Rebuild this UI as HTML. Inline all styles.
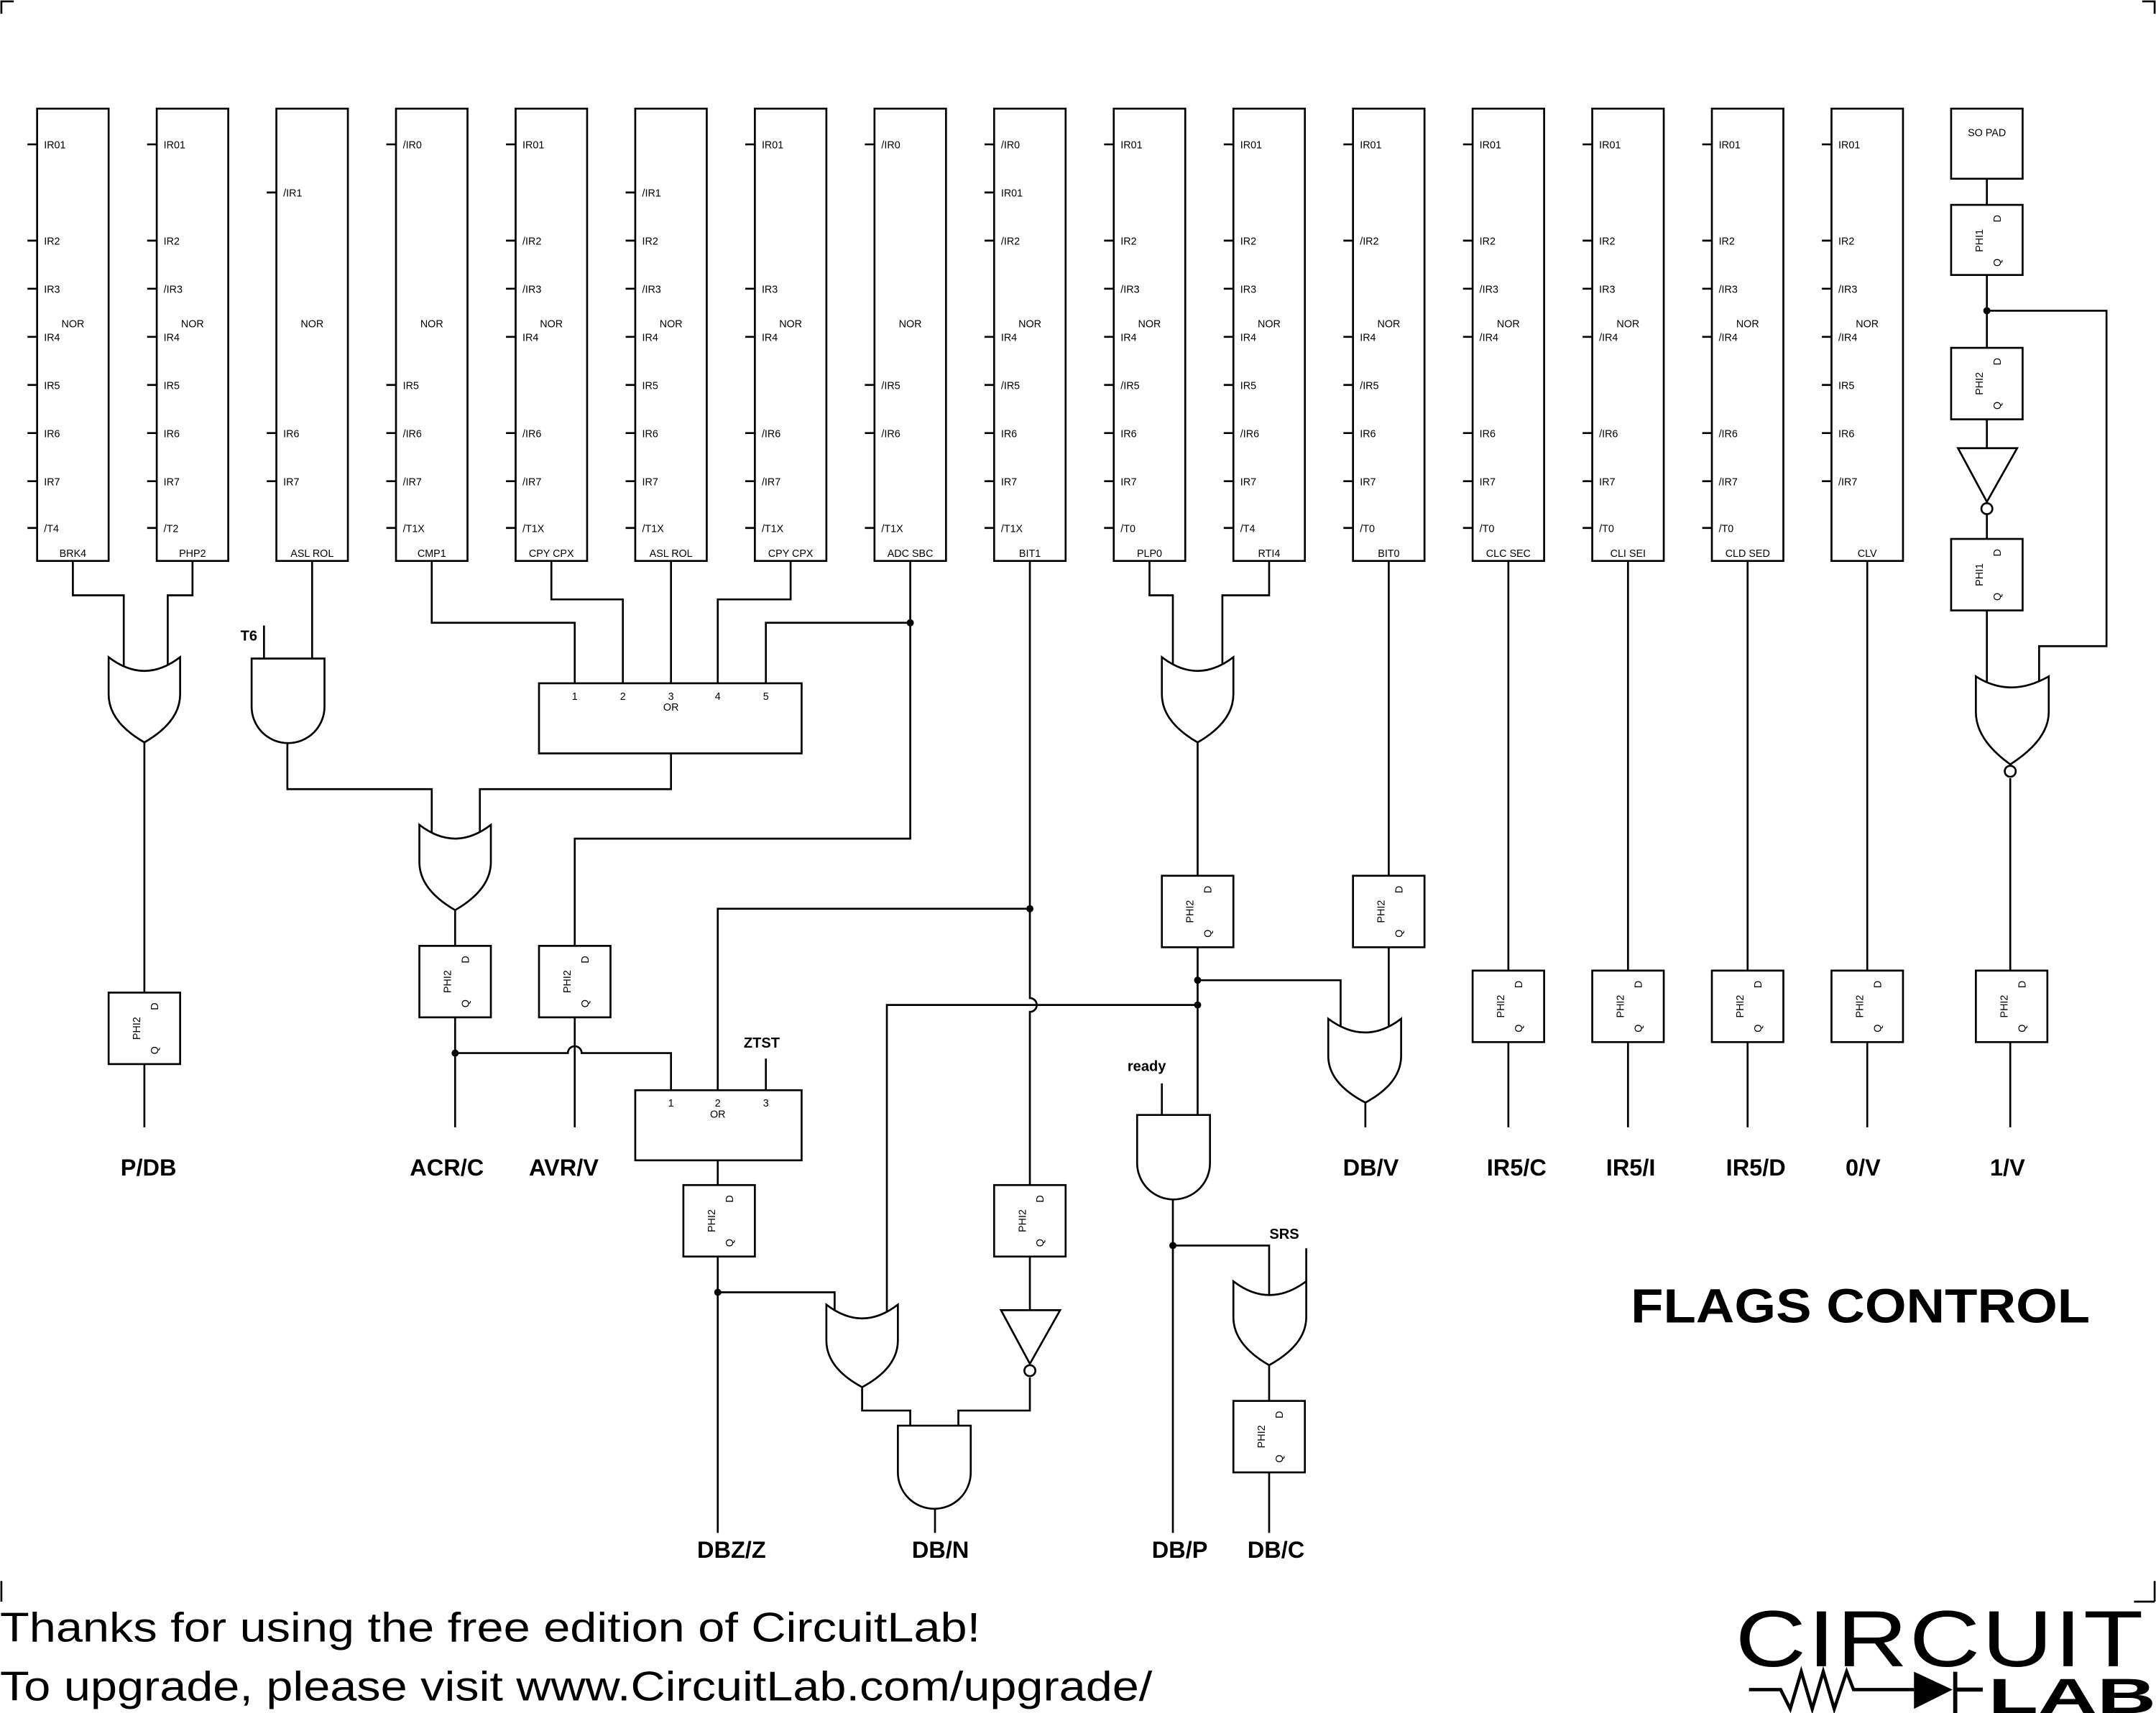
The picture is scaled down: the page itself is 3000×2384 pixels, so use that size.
<!DOCTYPE html>
<html><head><meta charset="utf-8"><style>
html,body{margin:0;padding:0;background:#fff}
svg{display:block}
.s{stroke:#000;stroke-width:1.4;fill:none}
.f{stroke:#000;stroke-width:1.4;fill:#fff}
text{font-family:"Liberation Sans",sans-serif;fill:#000}
.p{font-size:7.5px}
.m{font-size:7.5px;text-anchor:middle}
.b{font-size:17px;font-weight:bold;text-anchor:middle}
.sb{font-size:10.5px;font-weight:bold;text-anchor:middle}
</style></head><body>
<svg width="3000" height="2384" viewBox="0 0 1568 1246" xmlns="http://www.w3.org/2000/svg">
<path class="s" d="M1,10 V1 H10 M1558,1 H1567 V10 M1,1150 V1165 M1567,1150 V1165 M1552,1165 H1567"/>

<g transform="translate(27,0)"><rect class="s" x="0" y="79" width="52" height="329"/>
<path class="s" d="M-7,105H0M-7,175H0M-7,210H0M-7,245H0M-7,280H0M-7,315H0M-7,350H0M-7,384H0"/>
<text class="p" x="5" y="108">IR01</text><text class="p" x="5" y="178">IR2</text><text class="p" x="5" y="213">IR3</text><text class="p" x="5" y="248">IR4</text><text class="p" x="5" y="283">IR5</text><text class="p" x="5" y="318">IR6</text><text class="p" x="5" y="353">IR7</text><text class="p" x="5" y="387">/T4</text>
<text class="m" x="26" y="238">NOR</text><text class="m" x="26" y="405">BRK4</text></g>

<g transform="translate(114,0)"><rect class="s" x="0" y="79" width="52" height="329"/>
<path class="s" d="M-7,105H0M-7,175H0M-7,210H0M-7,245H0M-7,280H0M-7,315H0M-7,350H0M-7,384H0"/>
<text class="p" x="5" y="108">IR01</text><text class="p" x="5" y="178">IR2</text><text class="p" x="5" y="213">/IR3</text><text class="p" x="5" y="248">IR4</text><text class="p" x="5" y="283">IR5</text><text class="p" x="5" y="318">IR6</text><text class="p" x="5" y="353">IR7</text><text class="p" x="5" y="387">/T2</text>
<text class="m" x="26" y="238">NOR</text><text class="m" x="26" y="405">PHP2</text></g>

<g transform="translate(201,0)"><rect class="s" x="0" y="79" width="52" height="329"/>
<path class="s" d="M-7,140H0M-7,315H0M-7,350H0"/>
<text class="p" x="5" y="143">/IR1</text><text class="p" x="5" y="318">IR6</text><text class="p" x="5" y="353">IR7</text>
<text class="m" x="26" y="238">NOR</text><text class="m" x="26" y="405">ASL ROL</text></g>

<g transform="translate(288,0)"><rect class="s" x="0" y="79" width="52" height="329"/>
<path class="s" d="M-7,105H0M-7,280H0M-7,315H0M-7,350H0M-7,384H0"/>
<text class="p" x="5" y="108">/IR0</text><text class="p" x="5" y="283">IR5</text><text class="p" x="5" y="318">/IR6</text><text class="p" x="5" y="353">/IR7</text><text class="p" x="5" y="387">/T1X</text>
<text class="m" x="26" y="238">NOR</text><text class="m" x="26" y="405">CMP1</text></g>

<g transform="translate(375,0)"><rect class="s" x="0" y="79" width="52" height="329"/>
<path class="s" d="M-7,105H0M-7,175H0M-7,210H0M-7,245H0M-7,315H0M-7,350H0M-7,384H0"/>
<text class="p" x="5" y="108">IR01</text><text class="p" x="5" y="178">/IR2</text><text class="p" x="5" y="213">/IR3</text><text class="p" x="5" y="248">IR4</text><text class="p" x="5" y="318">/IR6</text><text class="p" x="5" y="353">/IR7</text><text class="p" x="5" y="387">/T1X</text>
<text class="m" x="26" y="238">NOR</text><text class="m" x="26" y="405">CPY CPX</text></g>

<g transform="translate(462,0)"><rect class="s" x="0" y="79" width="52" height="329"/>
<path class="s" d="M-7,140H0M-7,175H0M-7,210H0M-7,245H0M-7,280H0M-7,315H0M-7,350H0M-7,384H0"/>
<text class="p" x="5" y="143">/IR1</text><text class="p" x="5" y="178">IR2</text><text class="p" x="5" y="213">/IR3</text><text class="p" x="5" y="248">IR4</text><text class="p" x="5" y="283">IR5</text><text class="p" x="5" y="318">IR6</text><text class="p" x="5" y="353">IR7</text><text class="p" x="5" y="387">/T1X</text>
<text class="m" x="26" y="238">NOR</text><text class="m" x="26" y="405">ASL ROL</text></g>

<g transform="translate(549,0)"><rect class="s" x="0" y="79" width="52" height="329"/>
<path class="s" d="M-7,105H0M-7,210H0M-7,245H0M-7,315H0M-7,350H0M-7,384H0"/>
<text class="p" x="5" y="108">IR01</text><text class="p" x="5" y="213">IR3</text><text class="p" x="5" y="248">IR4</text><text class="p" x="5" y="318">/IR6</text><text class="p" x="5" y="353">/IR7</text><text class="p" x="5" y="387">/T1X</text>
<text class="m" x="26" y="238">NOR</text><text class="m" x="26" y="405">CPY CPX</text></g>

<g transform="translate(636,0)"><rect class="s" x="0" y="79" width="52" height="329"/>
<path class="s" d="M-7,105H0M-7,280H0M-7,315H0M-7,384H0"/>
<text class="p" x="5" y="108">/IR0</text><text class="p" x="5" y="283">/IR5</text><text class="p" x="5" y="318">/IR6</text><text class="p" x="5" y="387">/T1X</text>
<text class="m" x="26" y="238">NOR</text><text class="m" x="26" y="405">ADC SBC</text></g>

<g transform="translate(723,0)"><rect class="s" x="0" y="79" width="52" height="329"/>
<path class="s" d="M-7,105H0M-7,140H0M-7,175H0M-7,245H0M-7,280H0M-7,315H0M-7,350H0M-7,384H0"/>
<text class="p" x="5" y="108">/IR0</text><text class="p" x="5" y="143">IR01</text><text class="p" x="5" y="178">/IR2</text><text class="p" x="5" y="248">IR4</text><text class="p" x="5" y="283">/IR5</text><text class="p" x="5" y="318">IR6</text><text class="p" x="5" y="353">IR7</text><text class="p" x="5" y="387">/T1X</text>
<text class="m" x="26" y="238">NOR</text><text class="m" x="26" y="405">BIT1</text></g>

<g transform="translate(810,0)"><rect class="s" x="0" y="79" width="52" height="329"/>
<path class="s" d="M-7,105H0M-7,175H0M-7,210H0M-7,245H0M-7,280H0M-7,315H0M-7,350H0M-7,384H0"/>
<text class="p" x="5" y="108">IR01</text><text class="p" x="5" y="178">IR2</text><text class="p" x="5" y="213">/IR3</text><text class="p" x="5" y="248">IR4</text><text class="p" x="5" y="283">/IR5</text><text class="p" x="5" y="318">IR6</text><text class="p" x="5" y="353">IR7</text><text class="p" x="5" y="387">/T0</text>
<text class="m" x="26" y="238">NOR</text><text class="m" x="26" y="405">PLP0</text></g>

<g transform="translate(897,0)"><rect class="s" x="0" y="79" width="52" height="329"/>
<path class="s" d="M-7,105H0M-7,175H0M-7,210H0M-7,245H0M-7,280H0M-7,315H0M-7,350H0M-7,384H0"/>
<text class="p" x="5" y="108">IR01</text><text class="p" x="5" y="178">IR2</text><text class="p" x="5" y="213">IR3</text><text class="p" x="5" y="248">IR4</text><text class="p" x="5" y="283">IR5</text><text class="p" x="5" y="318">/IR6</text><text class="p" x="5" y="353">IR7</text><text class="p" x="5" y="387">/T4</text>
<text class="m" x="26" y="238">NOR</text><text class="m" x="26" y="405">RTI4</text></g>

<g transform="translate(984,0)"><rect class="s" x="0" y="79" width="52" height="329"/>
<path class="s" d="M-7,105H0M-7,175H0M-7,245H0M-7,280H0M-7,315H0M-7,350H0M-7,384H0"/>
<text class="p" x="5" y="108">IR01</text><text class="p" x="5" y="178">/IR2</text><text class="p" x="5" y="248">IR4</text><text class="p" x="5" y="283">/IR5</text><text class="p" x="5" y="318">IR6</text><text class="p" x="5" y="353">IR7</text><text class="p" x="5" y="387">/T0</text>
<text class="m" x="26" y="238">NOR</text><text class="m" x="26" y="405">BIT0</text></g>

<g transform="translate(1071,0)"><rect class="s" x="0" y="79" width="52" height="329"/>
<path class="s" d="M-7,105H0M-7,175H0M-7,210H0M-7,245H0M-7,315H0M-7,350H0M-7,384H0"/>
<text class="p" x="5" y="108">IR01</text><text class="p" x="5" y="178">IR2</text><text class="p" x="5" y="213">/IR3</text><text class="p" x="5" y="248">/IR4</text><text class="p" x="5" y="318">IR6</text><text class="p" x="5" y="353">IR7</text><text class="p" x="5" y="387">/T0</text>
<text class="m" x="26" y="238">NOR</text><text class="m" x="26" y="405">CLC SEC</text></g>

<g transform="translate(1158,0)"><rect class="s" x="0" y="79" width="52" height="329"/>
<path class="s" d="M-7,105H0M-7,175H0M-7,210H0M-7,245H0M-7,315H0M-7,350H0M-7,384H0"/>
<text class="p" x="5" y="108">IR01</text><text class="p" x="5" y="178">IR2</text><text class="p" x="5" y="213">IR3</text><text class="p" x="5" y="248">/IR4</text><text class="p" x="5" y="318">/IR6</text><text class="p" x="5" y="353">IR7</text><text class="p" x="5" y="387">/T0</text>
<text class="m" x="26" y="238">NOR</text><text class="m" x="26" y="405">CLI SEI</text></g>

<g transform="translate(1245,0)"><rect class="s" x="0" y="79" width="52" height="329"/>
<path class="s" d="M-7,105H0M-7,175H0M-7,210H0M-7,245H0M-7,315H0M-7,350H0M-7,384H0"/>
<text class="p" x="5" y="108">IR01</text><text class="p" x="5" y="178">IR2</text><text class="p" x="5" y="213">/IR3</text><text class="p" x="5" y="248">/IR4</text><text class="p" x="5" y="318">/IR6</text><text class="p" x="5" y="353">/IR7</text><text class="p" x="5" y="387">/T0</text>
<text class="m" x="26" y="238">NOR</text><text class="m" x="26" y="405">CLD SED</text></g>

<g transform="translate(1332,0)"><rect class="s" x="0" y="79" width="52" height="329"/>
<path class="s" d="M-7,105H0M-7,175H0M-7,210H0M-7,245H0M-7,280H0M-7,315H0M-7,350H0"/>
<text class="p" x="5" y="108">IR01</text><text class="p" x="5" y="178">IR2</text><text class="p" x="5" y="213">/IR3</text><text class="p" x="5" y="248">/IR4</text><text class="p" x="5" y="283">IR5</text><text class="p" x="5" y="318">IR6</text><text class="p" x="5" y="353">/IR7</text>
<text class="m" x="26" y="238">NOR</text><text class="m" x="26" y="405">CLV</text></g>

<path class="s" d="
M53,408V433H90V490 M140,408V433H122V490 M105,540V722 M105,774V820
M192,455V480 M227,408V480 M209,540V574H314V606 M488,548V574H349V606
M314,408V453H418V497 M401,408V436H453V497 M488,408V497 M575,408V436H522V497 M662,408V453H557V497
M662,453V610H418V688 M331,662V688 M331,740V820 M418,740V820
M331,766H413 A5,5 0 0 1 423,766 H488V793
M557,770V793 M522,793V661H749 M749,408V726 A5,5 0 0 1 749,736 V862
M522,844V862 M522,913V1115 M522,940H607V954
M645,954V731H871
M627,1009V1026H662V1037 M680,1097V1115
M749,913V953 M749,1002V1026H697V1037
M836,408V433H853V490 M923,408V433H889V490 M871,540V637 M871,688V812 M871,713H975V750
M1010,408V637 M1010,688V750 M993,802V820
M845,788V812 M853,872V1115 M853,906H923V942 M950,908V942 M923,993V1019 M923,1070V1115
M1097,408V706 M1097,758V820 M1184,408V706 M1184,758V820 M1271,408V706 M1271,758V820 M1358,408V706 M1358,758V820
M1445,130V149 M1445,200V253 M1445,226H1532V470H1483V500 M1445,305V326 M1445,374V392 M1445,444V500 M1462,566V706 M1462,758V820
"/>
<g fill="#000">
<circle cx="331" cy="766" r="2.6"/><circle cx="662" cy="453" r="2.6"/><circle cx="749" cy="661" r="2.6"/><circle cx="522" cy="940" r="2.6"/>
<circle cx="871" cy="713" r="2.6"/><circle cx="871" cy="731" r="2.6"/><circle cx="853" cy="906" r="2.6"/><circle cx="1445" cy="226" r="2.6"/>
</g>

<path class="f" d="M79,478 Q105,498 131,478 L131,505 Q131,525 105,540 Q79,525 79,505 Z"/>
<path class="f" d="M305,600 Q331,620 357,600 L357,627 Q357,647 331,662 Q305,647 305,627 Z"/>
<path class="f" d="M845,478 Q871,498 897,478 L897,505 Q897,525 871,540 Q845,525 845,505 Z"/>
<path class="f" d="M966,741 Q993,761 1019,741 L1019,768 Q1019,788 993,802 Q966,788 966,768 Z"/>
<path class="f" d="M601,949 Q627,969 653,949 L653,975 Q653,995 627,1009 Q601,995 601,975 Z"/>
<path class="f" d="M897,932 Q923,952 950,932 L950,958 Q950,978 923,993 Q897,978 897,958 Z"/>
<path class="f" d="M1437,492 Q1462,508 1490,492 L1490,518 Q1490,538 1462,556 Q1437,538 1437,518 Z"/>
<circle class="f" cx="1462" cy="561" r="4"/>
<path class="f" d="M183,479 H236 V514 A26.5,26.5 0 0 1 183,514 Z"/>
<path class="f" d="M653,1037 H706 V1071 A26.5,26.5 0 0 1 653,1071 Z"/>
<path class="f" d="M827,811 H880 V846 A26.5,26.5 0 0 1 827,846 Z"/>
<path class="f" d="M728,953 H771 L749,992 Z"/><circle class="f" cx="749" cy="997" r="4"/>
<path class="f" d="M1424,326 H1467 L1445,365 Z"/><circle class="f" cx="1445" cy="370" r="4"/>

<rect class="f" x="392" y="497" width="191" height="51"/>
<text class="m" x="418" y="509">1</text><text class="m" x="453" y="509">2</text><text class="m" x="488" y="509">3</text><text class="m" x="488" y="517">OR</text><text class="m" x="522" y="509">4</text><text class="m" x="557" y="509">5</text>
<rect class="f" x="462" y="793" width="121" height="51"/>
<text class="m" x="488" y="805">1</text><text class="m" x="522" y="805">2</text><text class="m" x="522" y="813">OR</text><text class="m" x="557" y="805">3</text>

<rect class="f" x="1419" y="79" width="52" height="51"/><text class="m" x="1445" y="99">SO PAD</text>

<g>
<g transform="translate(79,722)"><rect class="f" width="52" height="52"/><text transform="translate(20,26) rotate(-90)" y="3" class="m">PHI2</text><text transform="translate(33,10) rotate(-90)" y="3" class="m">D</text><text transform="translate(33,42) rotate(-90)" y="3" class="m">Q</text></g>
<g transform="translate(305,688)"><rect class="f" width="52" height="52"/><text transform="translate(20,26) rotate(-90)" y="3" class="m">PHI2</text><text transform="translate(33,10) rotate(-90)" y="3" class="m">D</text><text transform="translate(33,42) rotate(-90)" y="3" class="m">Q</text></g>
<g transform="translate(392,688)"><rect class="f" width="52" height="52"/><text transform="translate(20,26) rotate(-90)" y="3" class="m">PHI2</text><text transform="translate(33,10) rotate(-90)" y="3" class="m">D</text><text transform="translate(33,42) rotate(-90)" y="3" class="m">Q</text></g>
<g transform="translate(497,862)"><rect class="f" width="52" height="52"/><text transform="translate(20,26) rotate(-90)" y="3" class="m">PHI2</text><text transform="translate(33,10) rotate(-90)" y="3" class="m">D</text><text transform="translate(33,42) rotate(-90)" y="3" class="m">Q</text></g>
<g transform="translate(723,862)"><rect class="f" width="52" height="52"/><text transform="translate(20,26) rotate(-90)" y="3" class="m">PHI2</text><text transform="translate(33,10) rotate(-90)" y="3" class="m">D</text><text transform="translate(33,42) rotate(-90)" y="3" class="m">Q</text></g>
<g transform="translate(845,637)"><rect class="f" width="52" height="52"/><text transform="translate(20,26) rotate(-90)" y="3" class="m">PHI2</text><text transform="translate(33,10) rotate(-90)" y="3" class="m">D</text><text transform="translate(33,42) rotate(-90)" y="3" class="m">Q</text></g>
<g transform="translate(984,637)"><rect class="f" width="52" height="52"/><text transform="translate(20,26) rotate(-90)" y="3" class="m">PHI2</text><text transform="translate(33,10) rotate(-90)" y="3" class="m">D</text><text transform="translate(33,42) rotate(-90)" y="3" class="m">Q</text></g>
<g transform="translate(897,1019)"><rect class="f" width="52" height="52"/><text transform="translate(20,26) rotate(-90)" y="3" class="m">PHI2</text><text transform="translate(33,10) rotate(-90)" y="3" class="m">D</text><text transform="translate(33,42) rotate(-90)" y="3" class="m">Q</text></g>
<g transform="translate(1071,706)"><rect class="f" width="52" height="52"/><text transform="translate(20,26) rotate(-90)" y="3" class="m">PHI2</text><text transform="translate(33,10) rotate(-90)" y="3" class="m">D</text><text transform="translate(33,42) rotate(-90)" y="3" class="m">Q</text></g>
<g transform="translate(1158,706)"><rect class="f" width="52" height="52"/><text transform="translate(20,26) rotate(-90)" y="3" class="m">PHI2</text><text transform="translate(33,10) rotate(-90)" y="3" class="m">D</text><text transform="translate(33,42) rotate(-90)" y="3" class="m">Q</text></g>
<g transform="translate(1245,706)"><rect class="f" width="52" height="52"/><text transform="translate(20,26) rotate(-90)" y="3" class="m">PHI2</text><text transform="translate(33,10) rotate(-90)" y="3" class="m">D</text><text transform="translate(33,42) rotate(-90)" y="3" class="m">Q</text></g>
<g transform="translate(1332,706)"><rect class="f" width="52" height="52"/><text transform="translate(20,26) rotate(-90)" y="3" class="m">PHI2</text><text transform="translate(33,10) rotate(-90)" y="3" class="m">D</text><text transform="translate(33,42) rotate(-90)" y="3" class="m">Q</text></g>
<g transform="translate(1437,706)"><rect class="f" width="52" height="52"/><text transform="translate(20,26) rotate(-90)" y="3" class="m">PHI2</text><text transform="translate(33,10) rotate(-90)" y="3" class="m">D</text><text transform="translate(33,42) rotate(-90)" y="3" class="m">Q</text></g>
<g transform="translate(1419,149)"><rect class="f" width="52" height="51"/><text transform="translate(20,26) rotate(-90)" y="3" class="m">PHI1</text><text transform="translate(33,10) rotate(-90)" y="3" class="m">D</text><text transform="translate(33,42) rotate(-90)" y="3" class="m">Q</text></g>
<g transform="translate(1419,253)"><rect class="f" width="52" height="52"/><text transform="translate(20,26) rotate(-90)" y="3" class="m">PHI2</text><text transform="translate(33,10) rotate(-90)" y="3" class="m">D</text><text transform="translate(33,42) rotate(-90)" y="3" class="m">Q</text></g>
<g transform="translate(1419,392)"><rect class="f" width="52" height="52"/><text transform="translate(20,26) rotate(-90)" y="3" class="m">PHI1</text><text transform="translate(33,10) rotate(-90)" y="3" class="m">D</text><text transform="translate(33,42) rotate(-90)" y="3" class="m">Q</text></g>
</g>

<text class="sb" x="181" y="466">T6</text>
<text class="sb" x="554" y="762">ZTST</text>
<text class="sb" x="834" y="779">ready</text>
<text class="sb" x="934" y="901">SRS</text>

<text class="b" x="108" y="855">P/DB</text>
<text class="b" x="325" y="855">ACR/C</text>
<text class="b" x="410" y="855">AVR/V</text>
<text class="b" x="997" y="855">DB/V</text>
<text class="b" x="1103" y="855">IR5/C</text>
<text class="b" x="1186" y="855">IR5/I</text>
<text class="b" x="1277" y="855">IR5/D</text>
<text class="b" x="1355" y="855">0/V</text>
<text class="b" x="1460" y="855">1/V</text>
<text class="b" x="532" y="1133">DBZ/Z</text>
<text class="b" x="684" y="1133">DB/N</text>
<text class="b" x="858" y="1133">DB/P</text>
<text class="b" x="928" y="1133">DB/C</text>

<text x="1186" y="962" style="font-size:35px;font-weight:bold" textLength="334" lengthAdjust="spacingAndGlyphs">FLAGS CONTROL</text>

<text x="0" y="1194" style="font-size:30px" textLength="713" lengthAdjust="spacingAndGlyphs">Thanks for using the free edition of CircuitLab!</text>
<text x="0" y="1237" style="font-size:30px" textLength="838" lengthAdjust="spacingAndGlyphs">To upgrade, please visit www.CircuitLab.com/upgrade/</text>
<text x="1262" y="1212" style="font-size:58px;letter-spacing:1px" textLength="298" lengthAdjust="spacingAndGlyphs">CIRCUIT</text>
<path d="M1272,1229 H1295 L1302,1243 L1310,1216 L1318,1243 L1326,1216 L1334,1243 L1343,1216 L1348,1229 H1392" stroke="#000" stroke-width="2.4" fill="none"/>
<path d="M1392,1216 L1420,1229 L1392,1243 Z" fill="#000"/>
<path d="M1422,1216 V1246 M1422,1229 H1442" stroke="#000" stroke-width="3" fill="none"/>
<text x="1446" y="1246" style="font-size:36px;font-weight:bold" textLength="122" lengthAdjust="spacingAndGlyphs">LAB</text>
</svg>
</body></html>
